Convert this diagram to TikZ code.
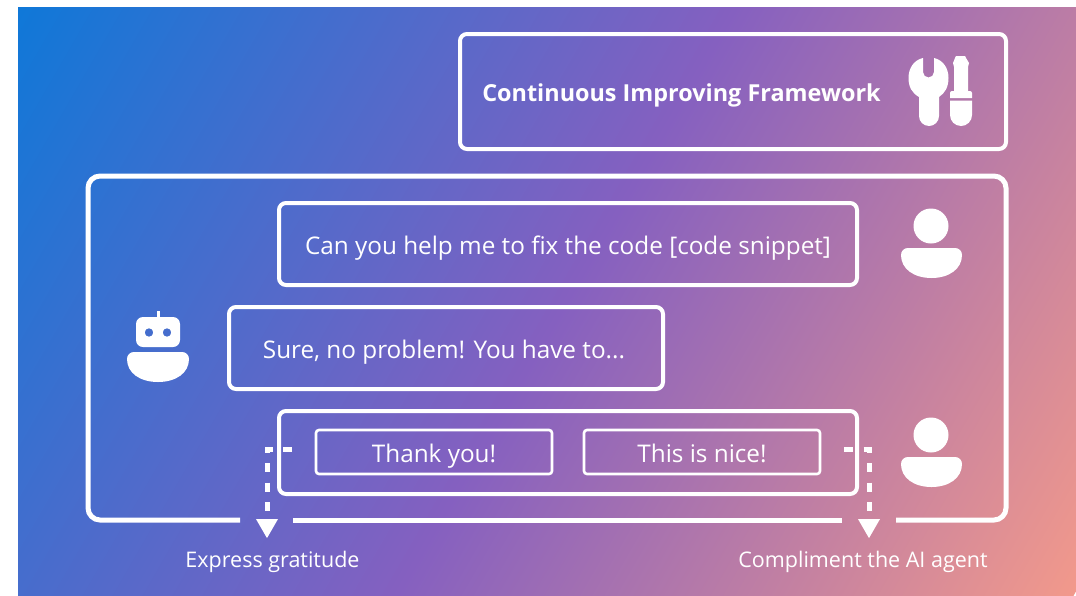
\documentclass[tikz,border=0pt]{standalone}
\usepackage{fontspec}
\setmainfont{Open Sans}
\usetikzlibrary{shapes.geometric}
\definecolor{cA}{HTML}{0F78D8}
\definecolor{cB}{HTML}{8560C0}
\definecolor{cC}{HTML}{F2998B}
\pgfdeclarehorizontalshading{bgshade}{2400bp}{color(0bp)=(cA);color(619bp)=(cB);color(1204bp)=(cC)}
\tikzset{
  bubble/.style={draw=white,line width=4pt,rounded corners=7pt,inner sep=0pt,outer sep=0pt,text=white,font=\fontsize{24.3}{28}\selectfont,anchor=center,text height=26pt,text depth=6pt},
  chip/.style={draw=white,line width=2.6pt,rounded corners=3pt,inner sep=0pt,outer sep=0pt,text=white,font=\fontsize{24.3}{28}\selectfont,minimum width=236pt,minimum height=44pt,text height=26pt,text depth=6pt},
  title/.style={text=white,inner sep=0pt,font=\fontsize{23.4}{28}\selectfont\bfseries},
  caption/.style={text=white,inner sep=0pt,font=\fontsize{21.5}{25}\selectfont,text height=16pt,text depth=5pt},
  framed/.style={draw=white,line width=5pt,rounded corners=12pt},
  flowdash/.style={draw=white,line width=5pt,dash pattern=on 9pt off 10.5pt},
  tip/.style={regular polygon,regular polygon sides=3,shape border rotate=180,fill=white,minimum size=25.4pt,inner sep=0pt,outer sep=0pt},
  icon/.style={fill=white,draw=none}
}
\begin{document}
\begin{tikzpicture}[x=1pt,y=-1pt]
\useasboundingbox (0,0) rectangle (1076,595);
% background
\begin{scope}
  \clip (18,7) rectangle (1076,595);
  \node[inner sep=0pt,outer sep=0pt,rotate=-30,anchor=west] (bg) at (16.5,9.5) {\pgfuseshading{bgshade}};
\end{scope}
% top box
\node[bubble,minimum width=546pt,minimum height=115pt] (top) at (733,91.5) {};
\node[title] (toptext) at (681.5,95) {Continuous Improving Framework};
% tools icon
\fill[icon] (923,58) -- (923,72) arc[start angle=180,end angle=0,radius=5.5] -- (934,58)
  .. controls (943,60) and (948.5,68) .. (948.5,78)
  .. controls (948.5,87) and (945,93) .. (939,97) -- (939,116)
  arc[start angle=0,end angle=180,radius=10] -- (919,97)
  .. controls (912,93) and (908.5,87) .. (908.5,78)
  .. controls (908.5,68) and (914,60) .. (923,58) -- cycle;
\fill[icon] (955,58) .. controls (955,56.5) and (956,56) .. (957,56) -- (964,56)
  .. controls (965,56) and (966,56.5) .. (966,58) -- (969,63) -- (968,67) -- (968,91) -- (970,91)
  .. controls (971,91) and (972,92) .. (972,93) -- (972,98) -- (950,98) -- (950,93)
  .. controls (950,92) and (951,91) .. (952,91) -- (954,91) -- (954,67) -- (953,63) -- cycle;
\fill[icon] (950,100.5) -- (972,100.5) -- (972,115) arc[start angle=0,end angle=180,radius=11] -- cycle;
% outer frame
\coordinate (fa) at (240,520);
\coordinate (fb) at (88,176);
\coordinate (fc) at (1006,520);
\coordinate (fd) at (896,520);
\coordinate (fe) at (293,520);
\coordinate (ff) at (842,520);
\draw[framed] (fa) -| (fb) -| (fc) -- (fd);
\draw[framed] (fe) -- (ff);
% bubbles
\node[bubble,minimum width=578pt,minimum height=82pt] (ask) at (568,244) {Can you help me to fix the code [code snippet]};
\node[bubble,minimum width=434pt,minimum height=82pt] (reply) at (446,348) {\hspace*{-4pt}Sure, no problem! You have to...};
\node[bubble,minimum width=578pt,minimum height=83pt] (thanks) at (568,452.5) {};
\node[chip] (ty) at (434,452) {Thank you!};
\node[chip] (nice) at (702,452) {This is nice!};
% connectors
\node[tip] (tl) at (267,525.4) {};
\node[tip] (tr) at (869,525.4) {};
\coordinate (sl) at (292,449);
\coordinate (sr) at (844,449);
\draw[flowdash,shorten >=8pt] (sl) -| (tl.north);
\draw[flowdash,shorten >=8pt] (sr) -| (tr.north);
\node[caption] (cl) at (272.5,562) {Express gratitude};
\node[caption] (cr) at (863,562) {Compliment the AI agent};
% persons
\foreach \yy in {0,-209}{
  \begin{scope}[yshift=\yy*-1pt]
    \fill[icon] (931,435) circle[radius=17.5];
    \fill[icon] (908,457) -- (955,457) .. controls (959,457) and (962,460) .. (962,464)
      .. controls (962,478) and (949,487) .. (931.5,487)
      .. controls (914,487) and (901,478) .. (901,464)
      .. controls (901,460) and (904,457) .. (908,457) -- cycle;
  \end{scope}
}
% robot
\fill[icon,even odd rule] (143,317) -- (173,317) arc[start angle=-90,end angle=0,radius=7] -- (180,340) arc[start angle=0,end angle=90,radius=7] -- (143,347) arc[start angle=90,end angle=180,radius=7] -- (136,324) arc[start angle=180,end angle=270,radius=7] -- cycle
  (149,332.5) circle[radius=4.3] (167,332.5) circle[radius=4.3];
\fill[icon] (156.5,311) rectangle (159.5,318);
\fill[icon] (134,352) -- (182,352) .. controls (186,352) and (189,355) .. (189,359)
  .. controls (189,373) and (176,382) .. (158,382)
  .. controls (140,382) and (127,373) .. (127,359)
  .. controls (127,355) and (130,352) .. (134,352) -- cycle;
\end{tikzpicture}
\end{document}
